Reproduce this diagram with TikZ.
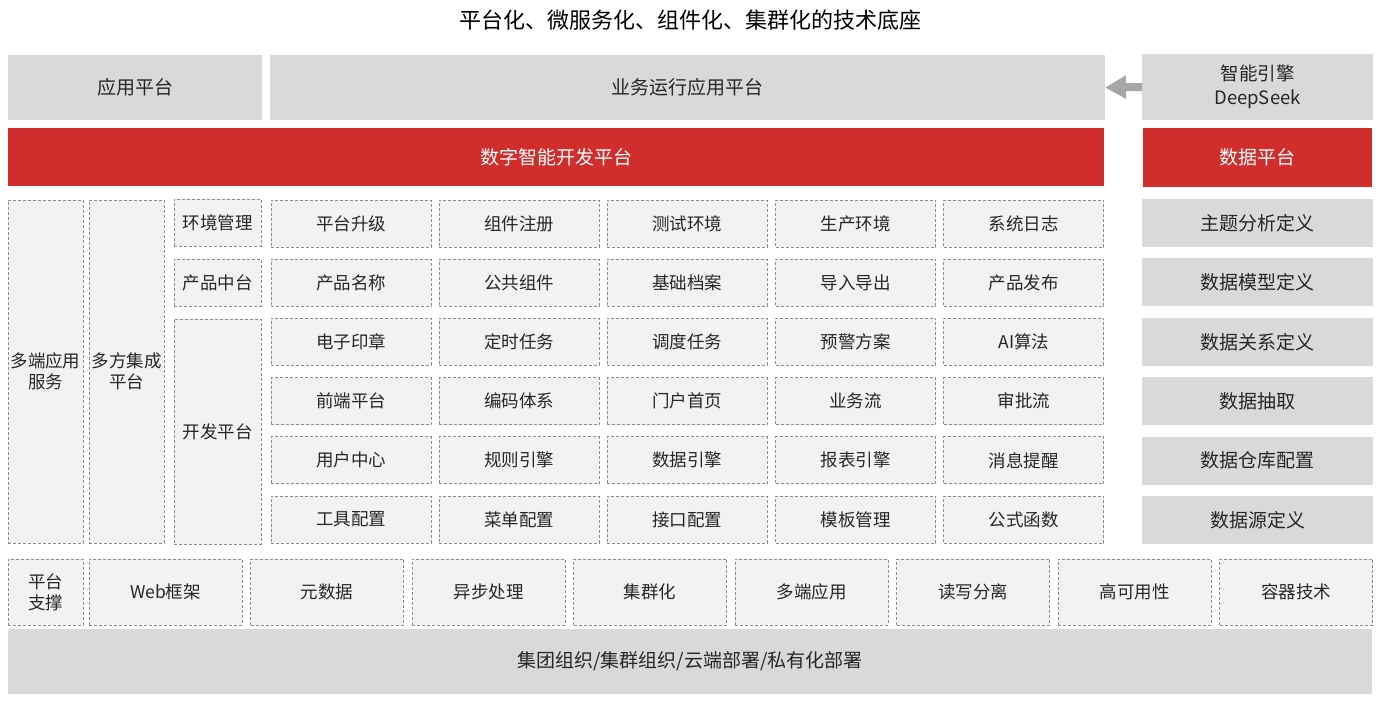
\documentclass[tikz,border=0pt]{standalone}
\usepackage{fontspec}
\setmainfont{Noto Sans CJK SC}
\usetikzlibrary{arrows.meta}
\definecolor{boxgray}{HTML}{D9D9D9}
\definecolor{dashfill}{HTML}{F2F2F2}
\definecolor{dashline}{HTML}{8C8C8C}
\definecolor{redbar}{HTML}{D12D2D}
\definecolor{txt}{HTML}{262626}
\definecolor{arrowgray}{HTML}{A6A6A6}
\tikzset{
  base/.style={anchor=north west, inner sep=0pt, outer sep=0pt, align=center,
    text=txt, font=\fontsize{17.5}{21}\selectfont},
  graybox/.style={base, fill=boxgray, font=\fontsize{19}{23}\selectfont},
  redbox/.style={base, fill=redbar, text=white, font=\fontsize{19}{23}\selectfont},
  dbox/.style={base, fill=dashfill, draw=dashline, line width=0.9pt,
    dash pattern=on 3pt off 2pt},
}
\begin{document}
\begin{tikzpicture}[x=1pt,y=-1pt]
\useasboundingbox (0,0) rectangle (1385,705);
\node[base, anchor=center, font=\fontsize{22}{26}\selectfont, text=black] (title) at (690,20) {平台化、微服务化、组件化、集群化的技术底座};
% row 1
\node[graybox, minimum width=254pt, minimum height=65pt] (app) at (8,55) {应用平台};
\node[graybox, minimum width=835pt, minimum height=65pt] (biz) at (270,55) {业务运行应用平台};
\node[graybox, minimum width=231pt, minimum height=66pt, font=\fontsize{18.5}{24}\selectfont] (ds) at (1142,54) {智能引擎\\DeepSeek};
\draw[arrowgray, line width=8pt, -{Triangle[length=21pt,width=22pt]}] (ds.west) -- (biz.east);
% red row
\node[redbox, minimum width=1096pt, minimum height=58pt] (dev) at (8,128) {数字智能开发平台};
\node[redbox, minimum width=229pt, minimum height=59pt] (data) at (1143,128) {数据平台};
% right column
\foreach \t [count=\i] in {主题分析定义,数据模型定义,数据关系定义,数据抽取,数据仓库配置,数据源定义} {
  \pgfmathsetmacro{\yy}{199+59.4*(\i-1)}
  \node[graybox, minimum width=231pt, minimum height=48pt] (r\i) at (1142,\yy) {\t};
}
% left dashed columns
\node[dbox, minimum width=75pt, minimum height=343pt] (multi) at (8,200) {多端应用\\服务};
\node[dbox, minimum width=75pt, minimum height=343pt] (integ) at (89,200) {多方集成\\平台};
\node[dbox, minimum width=87pt, minimum height=47pt] (env) at (174,199) {环境管理};
\node[dbox, minimum width=87pt, minimum height=47pt] (prod) at (174,259) {产品中台};
\node[dbox, minimum width=87pt, minimum height=225pt] (devp) at (174,319) {开发平台};
% grid
\foreach \row [count=\r] in {
  {平台升级,组件注册,测试环境,生产环境,系统日志},
  {产品名称,公共组件,基础档案,导入导出,产品发布},
  {电子印章,定时任务,调度任务,预警方案,AI算法},
  {前端平台,编码体系,门户首页,业务流,审批流},
  {用户中心,规则引擎,数据引擎,报表引擎,消息提醒},
  {工具配置,菜单配置,接口配置,模板管理,公式函数}} {
  \foreach \t [count=\c] in \row {
    \pgfmathsetmacro{\xx}{271+168.2*(\c-1)}
    \pgfmathsetmacro{\yy}{200+59.2*(\r-1)}
    \node[dbox, minimum width=160pt, minimum height=47pt] (g\r-\c) at (\xx,\yy) {\t};
  }
}
% bottom support row
\node[dbox, minimum width=75pt, minimum height=66pt] (sup) at (8,559) {平台\\支撑};
\foreach \t [count=\i] in {Web框架,元数据,异步处理,集群化,多端应用,读写分离,高可用性,容器技术} {
  \pgfmathsetmacro{\xx}{89+161.5*(\i-1)}
  \node[dbox, minimum width=153pt, minimum height=66pt] (b\i) at (\xx,559) {\t};
}
\node[graybox, minimum width=1364pt, minimum height=65pt] (deploy) at (8,629) {集团组织/集群组织/云端部署/私有化部署};
\end{tikzpicture}
\end{document}
